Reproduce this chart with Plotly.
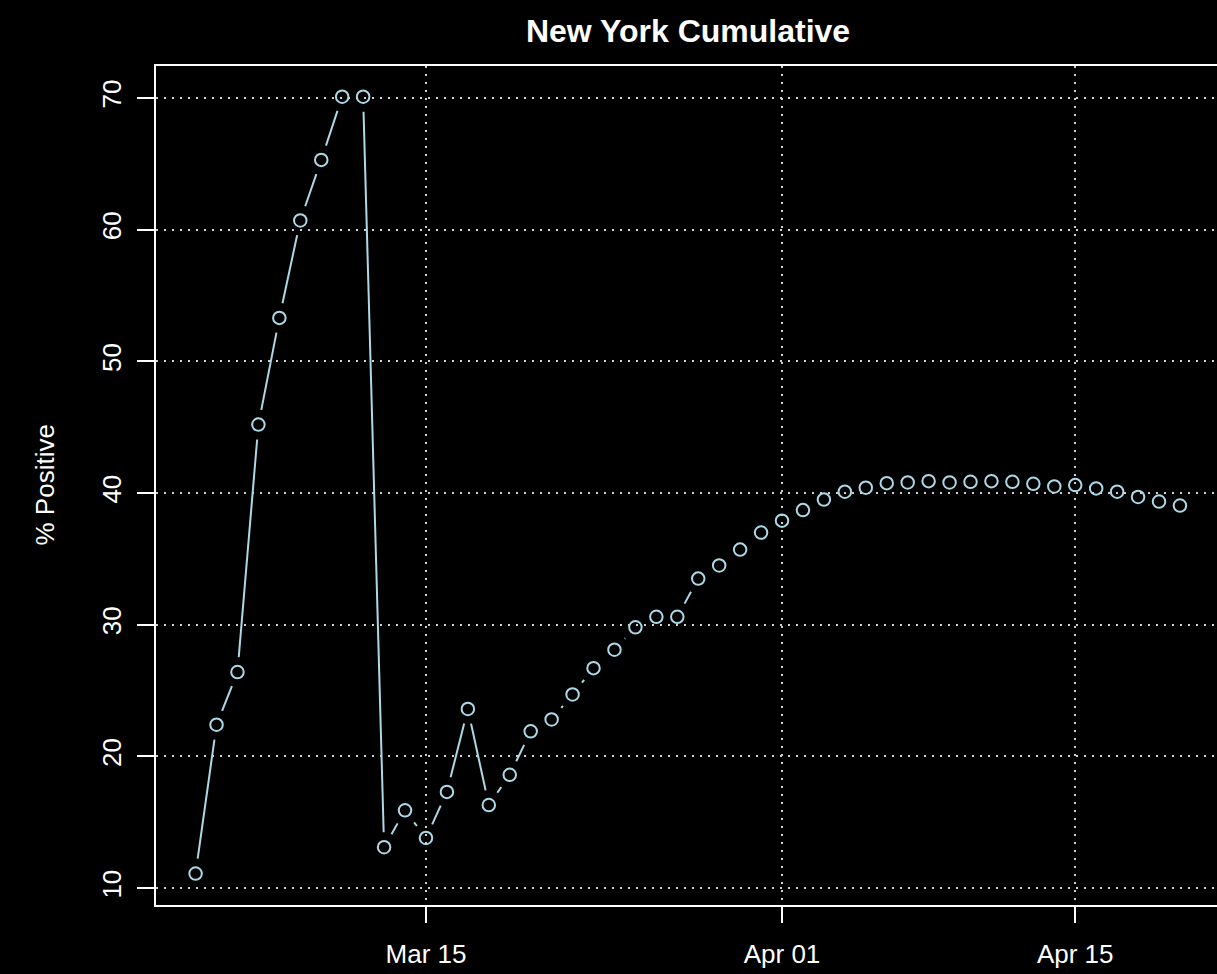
import numpy as np
import pandas as pd
import plotly.graph_objects as go

# ---- data ----
start_date = "2020-03-04"
pct_positive = [11.1, 22.4, 26.4, 45.2, 53.3, 60.7, 65.3, 70.1, 70.1, 13.1,
                15.9, 13.8, 17.3, 23.6, 16.3, 18.6, 21.9, 22.8, 24.7, 26.7,
                28.1, 29.8, 30.6, 30.6, 33.5, 34.5, 35.7, 37.0,
                37.9, 38.7, 39.5, 40.1, 40.4, 40.75, 40.8, 40.9, 40.8, 40.85,
                40.9, 40.85, 40.7, 40.5, 40.6, 40.35, 40.1, 39.7, 39.35, 39.05]
dates = pd.date_range(start_date, periods=len(pct_positive), freq="D")
x_tick_vals = ["2020-03-15", "2020-04-01", "2020-04-15"]
x_tick_text = ["Mar 15", "Apr 01", "Apr 15"]
y_tick_vals = [10, 20, 30, 40, 50, 60, 70]

# ---- layout geometry (figure slightly wider than the window, as in the reference
#      where the right edge of the box is just outside the picture) ----
W, H = 1221, 974
ML, MR, MT, MB = 156, 0, 66, 69
PW, PH = W - ML - MR, H - MT - MB
x0 = pd.Timestamp("2020-03-15") - pd.Timedelta(days=12.89)
x1 = pd.Timestamp("2020-04-15") + pd.Timedelta(days=6.96)
y0, y1 = 8.71, 72.43

span_days = (x1 - x0) / pd.Timedelta(days=1)
px_day = PW / span_days
px_unit = PH / (y1 - y0)

# R type="b": line segments with gaps around the points
GAP = 15.0
seg_x, seg_y = [], []
t = (dates - dates[0]) / pd.Timedelta(days=1)
for i in range(len(pct_positive) - 1):
    dxp = (t[i + 1] - t[i]) * px_day
    dyp = (pct_positive[i + 1] - pct_positive[i]) * px_unit
    L = np.hypot(dxp, dyp)
    if L <= 2 * GAP:
        continue
    f = GAP / L
    for ff in (f, 1 - f):
        seg_x.append(dates[i] + pd.Timedelta(days=float((t[i + 1] - t[i]) * ff)))
        seg_y.append(pct_positive[i] + (pct_positive[i + 1] - pct_positive[i]) * ff)
    seg_x.append(None)
    seg_y.append(None)

COL = "#add8e6"
fig = go.Figure()
fig.add_trace(go.Scatter(x=seg_x, y=seg_y, mode="lines",
                         line=dict(color=COL, width=2),
                         hoverinfo="skip", showlegend=False))
fig.add_trace(go.Scatter(x=dates, y=pct_positive, mode="markers",
                         marker=dict(symbol="circle-open", size=12.5,
                                     color=COL, line=dict(color=COL, width=2)),
                         showlegend=False))

font_family = "Liberation Sans, Arial, sans-serif"
GRID = "#d0d0d0"
fig.update_layout(
    width=W, height=H,
    paper_bgcolor="black", plot_bgcolor="black",
    margin=dict(l=ML, r=MR, t=MT, b=MB, autoexpand=False),
    font=dict(family=font_family, color="white", size=26),
    title=dict(text="<b>New York Cumulative</b>", x=688 / W, xref="container",
               xanchor="center", y=1 - 31 / H, yanchor="middle",
               font=dict(size=32, color="white", family=font_family)),
    xaxis=dict(type="date", range=[x0, x1], tickvals=x_tick_vals, ticktext=x_tick_text,
               showgrid=True, gridcolor=GRID, gridwidth=1.6, griddash="1.6px,6.4px",
               ticks="outside", ticklen=16, tickwidth=2, tickcolor="white",
               showline=True, linecolor="white", linewidth=2, mirror=True,
               zeroline=False, tickfont=dict(size=26, color="white"),
               ticklabelstandoff=9),
    yaxis=dict(range=[y0, y1], tickvals=y_tick_vals,
               showgrid=True, gridcolor=GRID, gridwidth=1.6, griddash="1.6px,6.4px",
               ticks="outside", ticklen=17, tickwidth=2, tickcolor="white",
               showline=True, linecolor="white", linewidth=2, mirror=True,
               zeroline=False, tickangle=-90, tickfont=dict(size=26, color="white"),
               ticklabelstandoff=6),
    annotations=[dict(text="% Positive", textangle=-90, xref="paper", yref="paper",
                      x=(44 - ML) / PW, y=0.5, xanchor="center", yanchor="middle",
                      showarrow=False, font=dict(size=26, color="white", family=font_family))],
)

fig.write_html("out.html",
               config={"displayModeBar": False},
               post_script="document.body.style.margin='0';"
                           "document.body.style.overflow='hidden';"
                           "document.documentElement.style.overflow='hidden';"
                           "document.body.style.background='black';")
